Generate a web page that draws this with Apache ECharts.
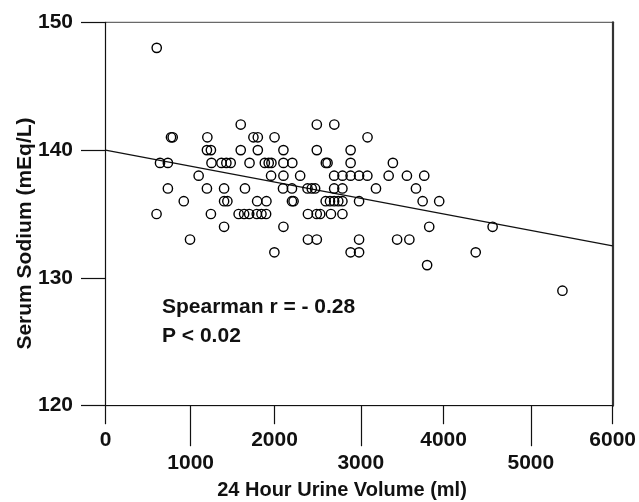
<!DOCTYPE html>
<html><head><meta charset="utf-8">
<script src="https://cdn.jsdelivr.net/npm/echarts@6/dist/echarts.min.js"></script>
<style>html,body{margin:0;padding:0;background:#fff}#c{width:639px;height:502px}</style>
</head><body><div id="c"></div>
<script>
// 24-hour urine volume (ml) and serum sodium (mEq/L), one entry per patient
const urineVolume = [
  606,
  1600, 2500, 2707,
  775, 795, 1205, 1750, 1802, 2000, 3100,
  1200, 1247, 1600, 1802, 2105, 2500, 2900,
  645, 738, 1254, 1372, 1430, 1481, 1704, 1885, 1931, 1963, 2105, 2210, 2607, 2627, 2900, 3400,
  1102, 1959, 2105, 2303, 2705, 2804, 2900, 3000, 3098, 3350, 3566, 3771,
  738, 1200, 1403, 1650, 2100, 2206, 2390, 2440, 2480, 2705, 2803, 3200, 3673,
  926, 1403, 1442, 1794, 1904, 2206, 2225, 2605, 2656, 2705, 2754, 2803, 3000, 3752, 3948,
  604, 1247, 1575, 1640, 1700, 1790, 1845, 1900, 2395, 2499, 2540, 2667, 2803,
  1403, 2105, 3830, 4580,
  1000, 2395, 2500, 3000, 3450, 3595,
  1998, 2900, 3000, 4380,
  3805,
  5406
];
const serumSodium = [
  148,
  142, 142, 142,
  141, 141, 141, 141, 141, 141, 141,
  140, 140, 140, 140, 140, 140, 140,
  139, 139, 139, 139, 139, 139, 139, 139, 139, 139, 139, 139, 139, 139, 139, 139,
  138, 138, 138, 138, 138, 138, 138, 138, 138, 138, 138, 138,
  137, 137, 137, 137, 137, 137, 137, 137, 137, 137, 137, 137, 137,
  136, 136, 136, 136, 136, 136, 136, 136, 136, 136, 136, 136, 136, 136, 136,
  135, 135, 135, 135, 135, 135, 135, 135, 135, 135, 135, 135, 135,
  134, 134, 134, 134,
  133, 133, 133, 133, 133, 133,
  132, 132, 132, 132,
  131,
  129
];
// regression line end points
const fitX = [0, 6000];
const fitY = [140, 132.5];
// odd-thousand tick labels on the lower row
const oddTickLabels = ['1000', '3000', '5000'];
const statLines = ['Spearman r = - 0.28', 'P < 0.02'];
const xTitle = '24 Hour Urine Volume (ml)';
const yTitle = 'Serum Sodium (mEq/L)';

const points = urineVolume.map((v, i) => [v, serumSodium[i]]);
const fitData = fitX.map((v, i) => [v, fitY[i]]);

const FONT = "'Liberation Sans', Arial, Helvetica, sans-serif";
const INK = '#111';
const labelStyle = { fontSize: 21, fontWeight: 'bold', color: INK, fontFamily: FONT, lineHeight: 21 };

const chart = echarts.init(document.getElementById('c'), null, { renderer: 'canvas' });
chart.setOption({
  animation: false,
  backgroundColor: '#fff',
  grid: [
    { left: 105.5, right: 23, top: 22.3, bottom: 96.3, show: true, borderColor: '#444', borderWidth: 1, backgroundColor: 'transparent' },
    { left: 190.67, right: 108.17, top: 22.3, bottom: 96.3 }
  ],
  xAxis: [
    {
      gridIndex: 0, type: 'value', min: 0, max: 6000, interval: 2000,
      axisLine: { show: true, lineStyle: { color: INK, width: 1.2 } },
      axisTick: { show: true, inside: false, length: 18.5, lineStyle: { color: INK, width: 1.2 } },
      axisLabel: Object.assign({ margin: 24, formatter: v => String(v) }, labelStyle),
      splitLine: { show: false }
    },
    {
      gridIndex: 1, type: 'value', min: 0, max: 2, interval: 1,
      axisLine: { show: false },
      axisTick: { show: true, inside: false, length: 40.5, lineStyle: { color: INK, width: 1.2 } },
      axisLabel: Object.assign({ margin: 47, formatter: v => oddTickLabels[Math.round(v)] }, labelStyle),
      splitLine: { show: false }
    }
  ],
  yAxis: [
    {
      gridIndex: 0, type: 'value', min: 120, max: 150, interval: 10,
      axisLine: { show: true, lineStyle: { color: INK, width: 1.2 } },
      axisTick: { show: true, inside: false, length: 24.5, lineStyle: { color: INK, width: 1.2 } },
      axisLabel: Object.assign({ margin: 32.5, formatter: v => String(v) }, labelStyle),
      splitLine: { show: false }
    },
    {
      gridIndex: 0, type: 'value', min: 120, max: 150, position: 'right',
      axisLine: { show: true, lineStyle: { color: '#333', width: 2.2 } },
      axisTick: { show: false }, axisLabel: { show: false }, splitLine: { show: false }
    },
    { gridIndex: 1, type: 'value', min: 0, max: 1, show: false }
  ],
  series: [
    {
      type: 'line', xAxisIndex: 0, yAxisIndex: 0, data: fitData,
      showSymbol: false, silent: true,
      lineStyle: { color: INK, width: 1.2 }, z: 2
    },
    {
      type: 'scatter', xAxisIndex: 0, yAxisIndex: 0, data: points,
      symbol: 'circle', symbolSize: 9.3,
      itemStyle: { color: 'rgba(0,0,0,0)', borderColor: '#000', borderWidth: 1.4, opacity: 1 },
      z: 3
    }
  ],
  graphic: [
    { type: 'text', x: 162, y: 307.5, style: { text: statLines[0], font: 'bold 21px ' + FONT, fill: INK, textAlign: 'left', textVerticalAlign: 'middle' } },
    { type: 'text', x: 162, y: 336, style: { text: statLines[1], font: 'bold 21px ' + FONT, fill: INK, textAlign: 'left', textVerticalAlign: 'middle' } },
    { type: 'text', x: 342, y: 490.5, style: { text: xTitle, font: 'bold 20px ' + FONT, fill: INK, textAlign: 'center', textVerticalAlign: 'middle' } },
    { type: 'text', x: 25, y: 233.5, rotation: Math.PI / 2, style: { text: yTitle, font: 'bold 21px ' + FONT, fill: INK, textAlign: 'center', textVerticalAlign: 'middle' } }
  ]
});
</script>
</body></html>
